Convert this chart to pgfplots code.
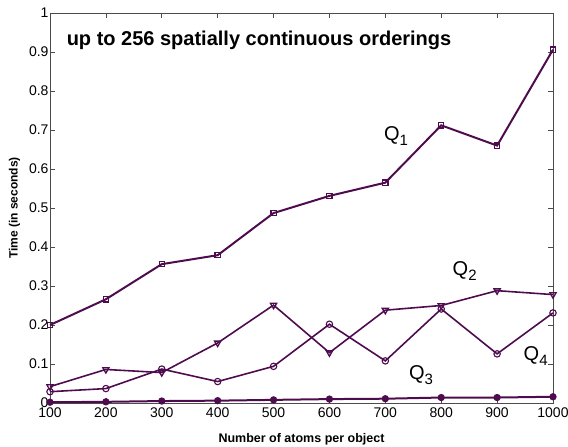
\documentclass[border=0pt]{standalone}
\usepackage{pgfplots}
\pgfplotsset{compat=1.18}
\usepackage{fontspec}
\setmainfont{Liberation Sans}
\definecolor{qp}{RGB}{78,12,78}
\newcommand{\Qsub}[1]{Q\raisebox{-5pt}{\fontsize{15}{16}\selectfont #1}}
\begin{document}
\begin{tikzpicture}
\begin{axis}[
  scale only axis, width=503pt, height=390pt,
  xmin=100, xmax=1000, ymin=0, ymax=1,
  xtick={100,200,...,1000}, ytick={0,0.1,...,1},
  xticklabels={100,200,300,400,500,600,700,800,900,1000},
  yticklabels={0,0.1,0.2,0.3,0.4,0.5,0.6,0.7,0.8,0.9,1},
  tick align=inside, major tick length=5pt,
  tick style={black!70, line width=0.6pt},
  axis line style={black!70, line width=0.8pt},
  /pgf/number format/assume math mode=true,
  tick label style={font=\fontsize{14}{15}\selectfont},
  xticklabel style={yshift=-1pt},
  yticklabel style={xshift=2pt},
  xlabel={\bfseries Number of atoms per object},
  ylabel={\bfseries Time (in seconds)},
  xlabel style={font=\fontsize{12.5}{13}\selectfont, yshift=-9pt},
  ylabel style={font=\fontsize{12}{13}\selectfont, yshift=2pt},
  clip=false,
]
\addplot[qp, line width=2pt, mark=square, mark size=2.6pt, mark options={line width=1.3pt}] coordinates {
(100,0.200)(200,0.266)(300,0.356)(400,0.379)(500,0.487)(600,0.531)(700,0.565)(800,0.712)(900,0.660)(1000,0.906)};
\addplot[qp, line width=1.6pt, mark=triangle, mark size=3.6pt, mark options={rotate=180, line width=1.3pt}] coordinates {
(100,0.042)(200,0.086)(300,0.078)(400,0.154)(500,0.251)(600,0.129)(700,0.238)(800,0.250)(900,0.288)(1000,0.278)};
\addplot[qp, line width=1.6pt, mark=o, mark size=3.2pt, mark options={line width=1.1pt}] coordinates {
(100,0.029)(200,0.037)(300,0.087)(400,0.055)(500,0.094)(600,0.202)(700,0.108)(800,0.241)(900,0.126)(1000,0.231)};
\addplot[qp, line width=2pt, mark=*, mark size=2.6pt] coordinates {
(100,0.002)(200,0.003)(300,0.005)(400,0.006)(500,0.008)(600,0.010)(700,0.011)(800,0.014)(900,0.014)(1000,0.016)};
\node[font=\bfseries\fontsize{20}{22}\selectfont] at (axis cs:474,0.931) {up to 256 spatially continuous orderings};
\node[font=\fontsize{20}{22}\selectfont] at (axis cs:719,0.685) {\Qsub{1}};
\node[font=\fontsize{20}{22}\selectfont] at (axis cs:842,0.339) {\Qsub{2}};
\node[font=\fontsize{20}{22}\selectfont] at (axis cs:764,0.071) {\Qsub{3}};
\node[font=\fontsize{20}{22}\selectfont] at (axis cs:969,0.121) {\Qsub{4}};
\end{axis}
\pgfresetboundingbox
\path (-50pt,-44pt) rectangle (518pt,403pt);
\end{tikzpicture}
\end{document}
